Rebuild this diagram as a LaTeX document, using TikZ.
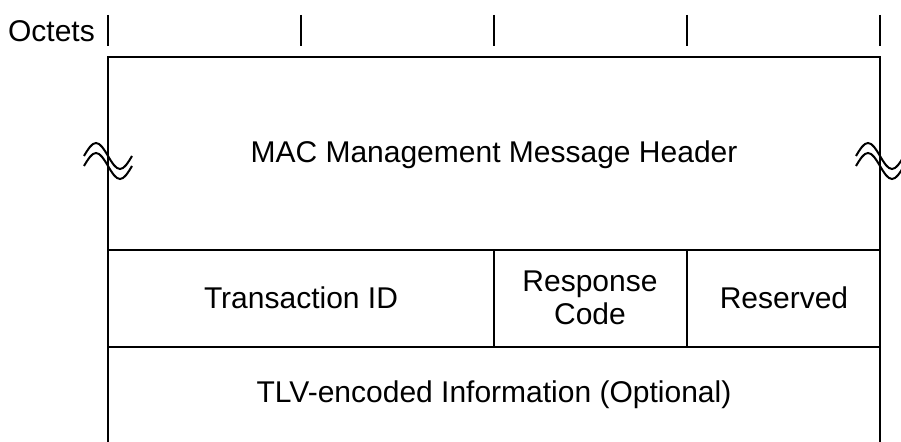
\documentclass[tikz,border=0pt]{standalone}
\usepackage{fontspec}
\setmainfont{Liberation Sans}
\usetikzlibrary{positioning}

\begin{document}
\begin{tikzpicture}[
    x=0.5pt, y=-0.5pt,
    line width=1.2pt,
    field/.style={
        font=\fontsize{15}{16.5}\selectfont,
        align=center,
        inner sep=0pt
    },
    brk/.style={line width=1pt}
]
\clip (0,0) rectangle (901,442);

% octet ruler
\node[field, anchor=east] (octets) at (96,31) {Octets};
\foreach \tx in {108,301,494,687,880}
    \draw (\tx,15) -- (\tx,46);

% frame lines
\coordinate (tl) at (108,57);
\coordinate (tr) at (880,57);
\coordinate (bl) at (108,442);
\coordinate (br) at (880,442);
\draw (bl) -- (tl) -- (tr) -- (br);
\draw (108,250) -- (880,250);
\draw (108,347) -- (880,347);
\draw (494,250) -- (494,347);
\draw (687,250) -- (687,347);

% fields
\node[field] (header) at (494,155) {MAC Management Message Header};
\node[field] (tid) at (301,298) {Transaction ID};
\node[field] (rcode) at (590,298) {Response\\Code};
\node[field] (resv) at (784,298) {Reserved};
\node[field] (tlv) at (494,395) {TLV-encoded Information (Optional)};

% break marks
\foreach \bx in {108,880} {
    \draw[brk] (\bx-24,156) sin (\bx-12,143) cos (\bx,156) sin (\bx+12,169) cos (\bx+24,156);
    \draw[brk] (\bx-24,166) sin (\bx-12,153) cos (\bx,166) sin (\bx+12,179) cos (\bx+24,166);
}

\end{tikzpicture}
\end{document}
